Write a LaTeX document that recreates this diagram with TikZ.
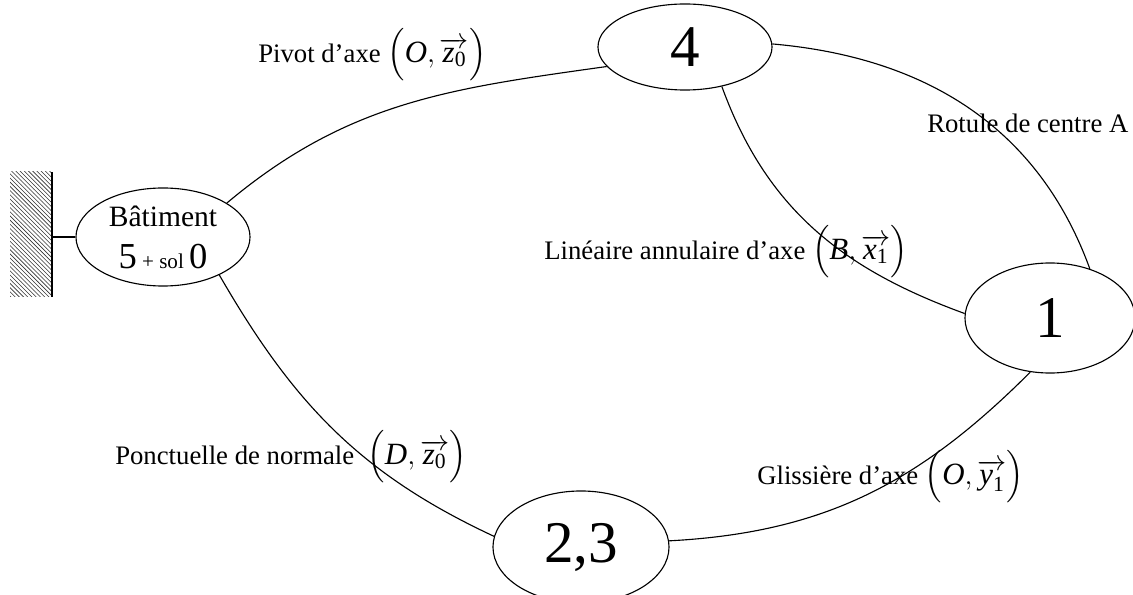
\documentclass[tikz,border=0pt]{standalone}
\usepackage{amsmath}
\usepackage{fontspec}
\setmainfont{Liberation Serif}
\usetikzlibrary{shapes.geometric,patterns}

\begin{document}
\begin{tikzpicture}[x=0.025cm, y=0.025cm,
PartNode/.style={ellipse, draw, line width=0.8pt, inner sep=0pt, align=center},
JointLabel/.style={anchor=west, inner sep=0pt, font=\fontsize{19}{23}\selectfont},
Liaison/.style={line width=0.8pt}]

\useasboundingbox (0,0) rectangle (1133,594);
\clip (0,0) rectangle (1133,594);

% ground
\fill[pattern=north west lines, pattern color=black!80] (10,297) rectangle (52,422);
\draw[line width=1pt] (52,297) -- (52,422);
\coordinate (sol) at (52,357);

% parts
\node[PartNode, minimum width=4.35cm, minimum height=2.45cm, font=\fontsize{21}{30}\selectfont] (bat) at (163,357)
  {B\^atiment\\
   {\fontsize{26}{30}\selectfont 5}{\fontsize{15}{30}\selectfont\ + sol }{\fontsize{26}{30}\selectfont 0}};
\node[PartNode, minimum width=4.35cm, minimum height=2.15cm, font=\fontsize{42}{46}\selectfont] (n4) at (685,547) {4};
\node[PartNode, minimum width=4.25cm, minimum height=2.75cm, font=\fontsize{42}{46}\selectfont] (n1) at (1050,276) {1};
\node[PartNode, minimum width=4.4cm, minimum height=2.8cm, font=\fontsize{42}{46}\selectfont] (n23) at (581,47) {2,3};

% liaisons
\draw[Liaison] (sol) -- (bat.west);
\draw[Liaison] (bat.28) to[out=40, in=188] (n4.194);
\draw[Liaison] (n4.2) to[out=-5, in=110] (n1.51);
\draw[Liaison] (n4.-47) to[out=-70, in=160] (n1.177);
\draw[Liaison] (bat.-34) to[out=-60, in=155] (n23.173);
\draw[Liaison] (n23.4) to[out=3, in=-135] (n1.-110);

% labels
\node[JointLabel] (lpivot) at (258,539) {Pivot d’axe {\fontsize{22}{26}\selectfont$\Bigl(\textit{O},\overrightarrow{\textit{z}_{\text{0}}}\Bigr)$}};
\node[JointLabel] (lrotule) at (927,471) {Rotule de centre A};
\node[JointLabel] (llin) at (544,342) {Linéaire annulaire d’axe {\fontsize{22}{26}\selectfont$\Bigl(\textit{B},\overrightarrow{\textit{x}_{\text{1}}}\Bigr)$}};
\node[JointLabel] (lponct) at (115,137) {Ponctuelle de normale \ {\fontsize{22}{26}\selectfont$\Bigl(\textit{D},\overrightarrow{\textit{z}_{\text{0}}}\Bigr)$}};
\node[JointLabel] (lgliss) at (757,117) {Glissière d’axe {\fontsize{22}{26}\selectfont$\Bigl(\textit{O},\overrightarrow{\textit{y}_{\text{1}}}\Bigr)$}};

\end{tikzpicture}
\end{document}
